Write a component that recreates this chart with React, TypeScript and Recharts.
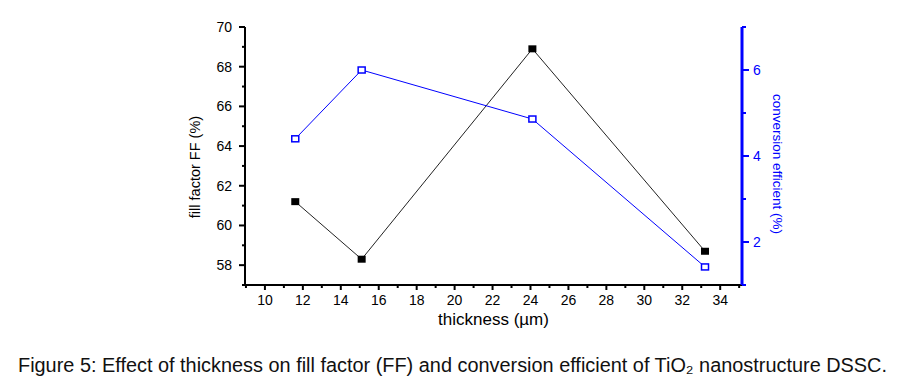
import React from 'react';
import { LineChart, Line, XAxis, YAxis } from 'recharts';

// ---- data ----
const thickness = [11.6, 15.1, 24.1, 33.2];
const fillFactor = [61.2, 58.3, 68.9, 58.7];
const efficiency = [4.4, 6.0, 4.86, 1.42];

const xTicks = [9, 10, 11, 12, 13, 14, 15, 16, 17, 18, 19, 20, 21, 22, 23, 24, 25, 26, 27, 28, 29, 30, 31, 32, 33, 34, 35];
const ffTicks = [57, 58, 59, 60, 61, 62, 63, 64, 65, 66, 67, 68, 69, 70];
const effTicks = [1, 2, 3, 4, 5, 6, 7];

const xDomain = [8.95, 35.15];
const ffDomain = [57, 70];
const effDomain = [1, 7];

const xTitle = 'thickness (\u00b5m)';
const ffTitle = 'fill factor FF (%)';
const effTitle = 'conversion efficient (%)';
const caption = 'Figure 5: Effect of thickness on fill factor (FF) and conversion efficient of TiO\u2082 nanostructure DSSC.';

// ---- layout ----
const W = 909;
const H = 385;
const M = { top: 27, right: 0, bottom: 0, left: 0 };
const LEFT_W = 245;
const RIGHT_W = 167;
const BOTTOM_H = 100;
const PL = M.left + LEFT_W;
const PR = W - M.right - RIGHT_W;
const PT = M.top;
const PB = H - M.bottom - BOTTOM_H;

const FONT = '"Liberation Sans", Arial, Helvetica, sans-serif';
const BLUE = '#0000ff';

const data = thickness.map((t, i) => ({ x: t, ff: fillFactor[i], eff: efficiency[i] }));

const isMajor = (v: number) => Math.round(v) % 2 === 0;

const BottomTick = (props: any) => {
  const c = props.payload.coordinate;
  const v = props.payload.value;
  const major = isMajor(v);
  return (
    <g>
      <line x1={c} x2={c} y1={PB} y2={PB + (major ? 5 : 3)} stroke="#000" strokeWidth={2} />
      {major && (
        <text x={c} y={PB + 20} textAnchor="middle" fontSize={14} fontFamily={FONT} fill="#000">
          {v}
        </text>
      )}
    </g>
  );
};

const TopTick = (props: any) => {
  const c = props.payload.coordinate;
  const v = props.payload.value;
  const major = isMajor(v);
  return <line x1={c} x2={c} y1={PT} y2={PT + (major ? 4 : 3)} stroke="#000" strokeWidth={2} />;
};

const LeftTick = (props: any) => {
  const c = props.payload.coordinate;
  const v = props.payload.value;
  const major = isMajor(v);
  return (
    <g>
      <line x1={PL - (major ? 6 : 3)} x2={PL} y1={c} y2={c} stroke="#000" strokeWidth={2} />
      {major && (
        <text x={PL - 13} y={c + 5} textAnchor="end" fontSize={14} fontFamily={FONT} fill="#000">
          {v}
        </text>
      )}
    </g>
  );
};

const RightTick = (props: any) => {
  const c = props.payload.coordinate;
  const v = props.payload.value;
  const major = isMajor(v);
  return (
    <g>
      <line x1={PR} x2={PR + (major ? 7 : 4)} y1={c} y2={c} stroke={BLUE} strokeWidth={2} />
      {major && (
        <text x={PR + 11} y={c + 5} textAnchor="start" fontSize={14} fontFamily={FONT} fill={BLUE}>
          {v}
        </text>
      )}
    </g>
  );
};

const FilledSquare = (p: any) => (
  <rect key={`f${p.index}`} x={p.cx - 4} y={p.cy - 3.5} width={8} height={7} fill="#000" />
);
const OpenSquare = (p: any) => (
  <rect key={`o${p.index}`} x={p.cx - 3.5} y={p.cy - 3} width={7} height={6} fill="#fff" stroke={BLUE} strokeWidth={1.5} />
);

export default function App() {
  return (
    <div style={{ position: 'absolute', left: 0, top: 0, width: W, height: H, background: '#fff' }}>
      <LineChart width={W} height={H} data={data} margin={M}>
        <XAxis
          xAxisId="b"
          dataKey="x"
          type="number"
          domain={xDomain}
          allowDataOverflow
          ticks={xTicks}
          interval={0}
          height={BOTTOM_H}
          axisLine={{ stroke: '#000', strokeWidth: 2 }}
          tickLine={false}
          tick={(p: any) => <BottomTick {...p} />}
          label={{
            content: () => (
              <text x={(PL + PR) / 2} y={PB + 40} textAnchor="middle" fontSize={17} fontFamily={FONT} fill="#000">
                {xTitle}
              </text>
            ),
          }}
        />
        <XAxis
          xAxisId="t"
          orientation="top"
          type="number"
          domain={xDomain}
          allowDataOverflow
          ticks={xTicks}
          interval={0}
          height={0}
          axisLine={{ stroke: '#000', strokeWidth: 2 }}
          tickLine={false}
          tick={(p: any) => <TopTick {...p} />}
        />
        <YAxis
          yAxisId="ff"
          type="number"
          domain={ffDomain}
          allowDataOverflow
          ticks={ffTicks}
          interval={0}
          width={LEFT_W}
          axisLine={{ stroke: '#000', strokeWidth: 2 }}
          tickLine={false}
          tick={(p: any) => <LeftTick {...p} />}
          label={{
            content: () => (
              <text
                x={PL - 50}
                y={(PT + PB) / 2 + 11}
                transform={`rotate(-90 ${PL - 50} ${(PT + PB) / 2 + 11})`}
                textAnchor="middle"
                dominantBaseline="central"
                fontSize={14.5}
                fontFamily={FONT}
                fill="#000"
              >
                {ffTitle}
              </text>
            ),
          }}
        />
        <YAxis
          yAxisId="eff"
          orientation="right"
          type="number"
          domain={effDomain}
          allowDataOverflow
          ticks={effTicks}
          interval={0}
          width={RIGHT_W}
          axisLine={{ stroke: BLUE, strokeWidth: 3 }}
          tickLine={false}
          tick={(p: any) => <RightTick {...p} />}
          label={{
            content: () => (
              <text
                x={PR + 35}
                y={(PT + PB) / 2 + 8}
                transform={`rotate(90 ${PR + 35} ${(PT + PB) / 2 + 8})`}
                textAnchor="middle"
                dominantBaseline="central"
                fontSize={13.5}
                fontFamily={FONT}
                fill={BLUE}
              >
                {effTitle}
              </text>
            ),
          }}
        />
        <Line
          xAxisId="b"
          yAxisId="ff"
          dataKey="ff"
          stroke="#222"
          strokeWidth={1}
          dot={FilledSquare}
          activeDot={false}
          isAnimationActive={false}
        />
        <Line
          xAxisId="b"
          yAxisId="eff"
          dataKey="eff"
          stroke={BLUE}
          strokeWidth={1}
          dot={OpenSquare}
          activeDot={false}
          isAnimationActive={false}
        />
      </LineChart>
      <svg width={W} height={H} style={{ position: 'absolute', left: 0, top: 0, pointerEvents: 'none' }}>
        <text
          x={18}
          y={371.5}
          fontSize={20}
          fontFamily={FONT}
          fill="#111"
          textLength={869}
          lengthAdjust="spacingAndGlyphs"
        >
          {caption}
        </text>
      </svg>
    </div>
  );
}
